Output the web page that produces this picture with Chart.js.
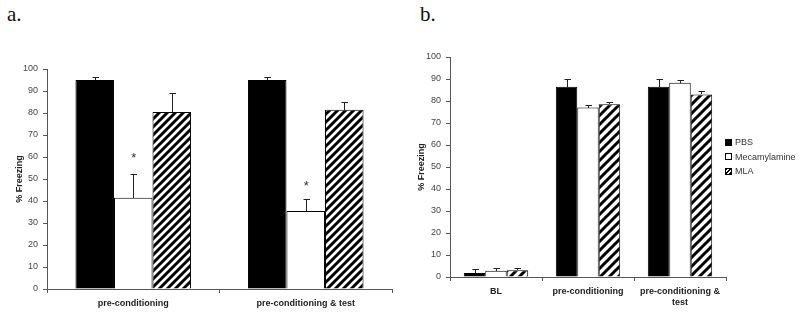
<!DOCTYPE html>
<html><head><meta charset="utf-8">
<script src="https://cdn.jsdelivr.net/npm/chart.js@4"></script>
<style>
html,body{margin:0;padding:0;background:#fff;width:800px;height:317px;overflow:hidden}
canvas{position:absolute;top:0}
.tag{position:absolute;font-family:"Liberation Serif","DejaVu Serif",serif;font-size:21px;line-height:1;color:#111}
.legend{position:absolute;left:725px;top:135px;font-family:"Liberation Sans",Arial,sans-serif;font-size:9px;color:#333}
.legend div{height:14.5px;display:flex;align-items:center}
.legend span.b{display:inline-block;width:5px;height:5px;border:1px solid #000;margin-right:3px}
</style></head>
<body>
<div class="tag" style="left:7px;top:4px">a.</div>
<div class="tag" style="left:420px;top:4px">b.</div>
<canvas id="ca" width="400" height="317" style="left:0"></canvas>
<canvas id="cb" width="400" height="317" style="left:400px"></canvas>
<div class="legend" id="leg"></div>
<script>
// ---- data ----
const seriesNames = ['PBS', 'Mecamylamine', 'MLA'];
const yTicks = [0, 10, 20, 30, 40, 50, 60, 70, 80, 90, 100];

// panel a
const groupsA = ['pre-conditioning', 'pre-conditioning & test'];
const pbsA = [95, 95];
const pbsSemA = [1.5, 1.5];
const mecA = [41.5, 35.5];
const mecSemA = [11, 5.5];
const mlaA = [80.5, 81.5];
const mlaSemA = [8.5, 3.5];
const mecStarA = [60.5, 48];

// panel b
const groupsB = ['BL', 'pre-conditioning', ['pre-conditioning &', 'test']];
const pbsB = [1.8, 86.5, 86.5];
const pbsSemB = [1.7, 3.5, 3.5];
const mecB = [2.8, 77, 88.3];
const mecSemB = [1.3, 1.3, 1.4];
const mlaB = [3.1, 78.5, 83];
const mlaSemB = [1.2, 1, 1.4];

const FAM = '"Liberation Sans", Arial, sans-serif';

function hatch(size, lw) {
  const c = document.createElement('canvas');
  c.width = size; c.height = size;
  const g = c.getContext('2d');
  g.fillStyle = '#fff'; g.fillRect(0, 0, size, size);
  g.strokeStyle = '#000'; g.lineWidth = lw;
  g.beginPath();
  g.moveTo(-2, size + 2); g.lineTo(size + 2, -2);
  g.moveTo(-2, 2); g.lineTo(2, -2);
  g.moveTo(size - 2, size + 2); g.lineTo(size + 2, size - 2);
  g.stroke();
  return g.createPattern(c, 'repeat');
}

const errPlugin = {
  id: 'err',
  afterDatasetsDraw(chart) {
    const ctx = chart.ctx, ys = chart.scales.y;
    chart.data.datasets.forEach((ds, i) => {
      const meta = chart.getDatasetMeta(i);
      meta.data.forEach((bar, j) => {
        const v = ds.data[j], e = ds.sem[j];
        const x = Math.round(bar.x) + 0.5;
        const yt = Math.round(ys.getPixelForValue(v + e)) + 0.5;
        const yb = Math.round(bar.y);
        ctx.save();
        ctx.strokeStyle = '#222'; ctx.lineWidth = 1;
        ctx.beginPath();
        ctx.moveTo(x, yb); ctx.lineTo(x, yt);
        ctx.moveTo(x - 3, yt); ctx.lineTo(x + 3.5, yt);
        ctx.stroke();
        if (ds.stars) {
          const s = ds.stars[j];
          if (s != null) {
            ctx.fillStyle = '#333';
            ctx.font = '13px ' + FAM;
            ctx.textAlign = 'center'; ctx.textBaseline = 'middle';
            ctx.fillText('*', bar.x + 0.5, ys.getPixelForValue(s) + 3);
          }
        }
        ctx.restore();
      });
    });
  }
};

function makeChart(id, groups, vals, sems, stars, cfg) {
  const fills = ['#000', '#fff', hatch(cfg.hs, cfg.hw)];
  const datasets = seriesNames.map((n, i) => ({
    label: n, data: vals[i], sem: sems[i], stars: stars[i],
    backgroundColor: fills[i], borderColor: '#000', borderWidth: 1,
    barPercentage: 1, categoryPercentage: cfg.cat
  }));
  return new Chart(document.getElementById(id), {
    type: 'bar',
    data: { labels: groups, datasets },
    plugins: [errPlugin],
    options: {
      responsive: false, animation: false, devicePixelRatio: 1,
      layout: { padding: { top: cfg.top, right: cfg.right, left: 0, bottom: 0 } },
      plugins: { legend: { display: false }, tooltip: { enabled: false } },
      scales: {
        x: {
          grid: { display: true, drawOnChartArea: false, drawTicks: true, tickLength: 4, color: '#555', offset: true },
          border: { color: '#555', width: 1 },
          ticks: { font: { family: FAM, size: 9, weight: 'bold' }, color: '#222', padding: 5, maxRotation: 0, autoSkip: false },
          afterFit: s => { s.height = cfg.xh; }
        },
        y: {
          min: 0, max: 100,
          afterBuildTicks: s => { s.ticks = yTicks.map(v => ({ value: v })); },
          ticks: { font: { family: FAM, size: 9 }, color: '#444', padding: 5 },
          grid: { drawOnChartArea: false, tickLength: 4, color: '#555' },
          border: { color: '#555', width: 1 },
          title: { display: true, text: '% Freezing', font: { family: FAM, size: 9, weight: 'bold' }, color: '#222', padding: { top: cfg.tp, bottom: 0 } },
          afterFit: s => { s.width = cfg.yw; }
        }
      }
    }
  });
}

makeChart('ca', groupsA, [pbsA, mecA, mlaA], [pbsSemA, mecSemA, mlaSemA], [null, mecStarA, null],
  { top: 69, right: 8, xh: 28, yw: 47, tp: 14, cat: 0.67, hs: 8, hw: 3 });
makeChart('cb', groupsB, [pbsB, mecB, mlaB], [pbsSemB, mecSemB, mlaSemB], [null, null, null],
  { top: 57, right: 74, xh: 40, yw: 50, tp: 16, cat: 0.7, hs: 9, hw: 3 });

// legend
const leg = document.getElementById('leg');
const boxStyles = ['background:#000', 'background:#fff',
  'background:repeating-linear-gradient(-45deg,#000 0 1.5px,#fff 1.5px 3px)'];
seriesNames.forEach((n, i) => {
  const d = document.createElement('div');
  const b = document.createElement('span');
  b.className = 'b'; b.setAttribute('style', boxStyles[i]);
  d.appendChild(b);
  d.appendChild(document.createTextNode(n));
  leg.appendChild(d);
});
</script>
</body></html>
